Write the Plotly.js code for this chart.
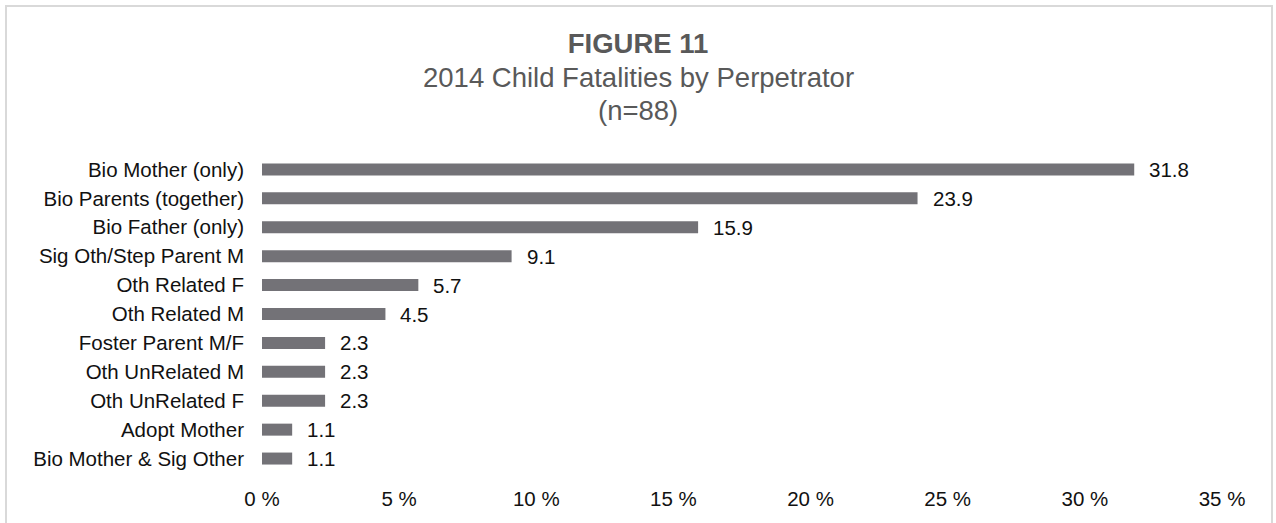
<!DOCTYPE html>
<html>
<head>
<meta charset="utf-8">
<script src="https://cdn.plot.ly/plotly-3.0.1.min.js"></script>
<style>
  html, body { margin: 0; padding: 0; background: #ffffff; }
  #chart { position: absolute; left: 0; top: 0; width: 1276px; height: 523px; }
  #frame {
    position: absolute; left: 5px; top: 5px; width: 1264px; height: 600px;
    border: 2px solid #d9d9d9; pointer-events: none;
  }
</style>
</head>
<body>
<div id="chart"></div>
<div id="frame"></div>
<script>
// Perpetrator categories, top to bottom
const perpetrators = [
  "Bio Mother (only)",
  "Bio Parents (together)",
  "Bio Father (only)",
  "Sig Oth/Step Parent M",
  "Oth Related F",
  "Oth Related M",
  "Foster Parent M/F",
  "Oth UnRelated M",
  "Oth UnRelated F",
  "Adopt Mother",
  "Bio Mother & Sig Other"
];

// Share of fatalities (percent)
const percentages = [31.8, 23.9, 15.9, 9.1, 5.7, 4.5, 2.3, 2.3, 2.3, 1.1, 1.1];

// Axis ticks
const tickValues = [0, 5, 10, 15, 20, 25, 30, 35];
const tickLabels = ["0 %", "5 %", "10 %", "15 %", "20 %", "25 %", "30 %", "35 %"];

// Heading lines
const headingMain = "FIGURE 11";
const headingLines = ["2014 Child Fatalities by Perpetrator", "(n=88)"];

const FONT = "Liberation Sans, Arial, sans-serif";
const TITLE_GRAY = "#595959";

const W = 1276, H = 523;
const margin = { l: 262, r: 54, t: 155, b: 50, pad: 0 };
const plotH = H - margin.t - margin.b;

// pixel row (from top of page) -> paper y
const paperY = px => (H - margin.b - px) / plotH;

const bars = {
  type: "bar",
  orientation: "h",
  x: percentages,
  y: perpetrators,
  width: 0.415,
  marker: { color: "#737277" },
  hoverinfo: "x+y"
};

const valueLabels = percentages.map((v, i) => ({
  x: v,
  y: perpetrators[i],
  xref: "x",
  yref: "y",
  text: v.toFixed(1),
  showarrow: false,
  xanchor: "left",
  yanchor: "middle",
  xshift: 13,
  font: { family: FONT, size: 20.5, color: "#111111" }
}));

const headingRows = [77.4, 110.4];
const headingNotes = headingLines.map((t, i) => ({
  text: t,
  xref: "paper",
  yref: "paper",
  x: (W / 2 - margin.l) / (W - margin.l - margin.r),
  y: paperY(headingRows[i]),
  xanchor: "center",
  yanchor: "middle",
  showarrow: false,
  font: { family: FONT, size: 27.5, color: TITLE_GRAY }
}));

const layout = {
  width: W,
  height: H,
  margin: margin,
  paper_bgcolor: "#ffffff",
  plot_bgcolor: "#ffffff",
  showlegend: false,
  title: {
    text: "<b>" + headingMain + "</b>",
    font: { family: FONT, size: 27.5, color: TITLE_GRAY },
    x: 0.5,
    xref: "container",
    xanchor: "center",
    y: 1 - 43.4 / H,
    yref: "container",
    yanchor: "middle"
  },
  xaxis: {
    range: [0, 35],
    tickvals: tickValues,
    ticktext: tickLabels,
    showgrid: false,
    zeroline: false,
    showline: false,
    ticks: "",
    ticklabelstandoff: 11,
    tickfont: { family: FONT, size: 20.5, color: "#111111" },
    fixedrange: true
  },
  yaxis: {
    type: "category",
    autorange: "reversed",
    showgrid: false,
    zeroline: false,
    showline: false,
    ticks: "",
    ticklabelstandoff: 17,
    tickfont: { family: FONT, size: 20.5, color: "#111111" },
    fixedrange: true
  },
  annotations: valueLabels.concat(headingNotes)
};

Plotly.newPlot("chart", [bars], layout, { displayModeBar: false, staticPlot: true });
</script>
</body>
</html>
